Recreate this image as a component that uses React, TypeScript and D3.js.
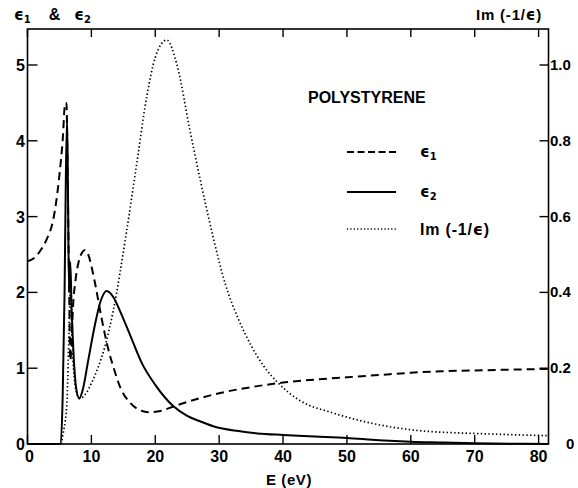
import React from "react";
import * as d3 from "d3";

const eps1E = [0, 1, 2, 3, 4, 4.5, 5, 5.5, 5.9, 6.1, 6.3, 6.5, 6.7, 6.9, 7.1, 7.5, 8, 8.5, 9, 9.5, 10.5, 11.5, 12.5, 13.5, 14.5, 16, 17.5, 19, 21, 23, 26, 30, 35, 40, 45, 50, 55, 60, 65, 70, 75, 81.5];
const eps1V = [2.41, 2.45, 2.55, 2.7, 2.95, 3.2, 3.55, 4.0, 4.5, 4.5, 3.4, 2.2, 1.1, 1.35, 1.77, 2.15, 2.4, 2.52, 2.56, 2.5, 2.15, 1.7, 1.3, 1.0, 0.75, 0.55, 0.45, 0.42, 0.44, 0.5, 0.58, 0.67, 0.75, 0.81, 0.85, 0.88, 0.91, 0.94, 0.96, 0.97, 0.98, 0.99];

const eps2E = [0, 5.2, 5.5, 5.8, 6.0, 6.2, 6.35, 6.5, 6.7, 6.9, 7.2, 7.6, 8.1, 8.6, 9.5, 10.5, 11.5, 12.4, 13.5, 14.5, 16, 18, 20, 22.8, 25, 27, 29.6, 33, 36, 40, 45, 50, 55, 60, 65, 70, 81.5];
const eps2V = [0, 0, 0.6, 2.0, 3.5, 4.3, 3.2, 2.0, 2.4, 1.8, 1.2, 0.75, 0.6, 0.7, 1.1, 1.55, 1.9, 2.02, 1.93, 1.75, 1.45, 1.05, 0.78, 0.5, 0.37, 0.3, 0.22, 0.17, 0.14, 0.12, 0.1, 0.08, 0.05, 0.03, 0.02, 0.01, 0.0];

const lossE = [5.3, 5.6, 5.9, 6.2, 6.5, 6.7, 6.9, 7.2, 7.6, 8.2, 9, 10, 11, 12.1, 13.4, 15.5, 17.1, 18.7, 20, 21.8, 23.4, 25.4, 27, 29, 31, 33, 35, 37, 39, 42.6, 47.8, 53, 60.3, 65, 69.7, 75, 81.3];
const lossV = [0, 0.03, 0.06, 0.12, 0.3, 0.4, 0.3, 0.2, 0.14, 0.12, 0.13, 0.16, 0.2, 0.256, 0.35, 0.56, 0.74, 0.92, 1.02, 1.066, 1.0, 0.83, 0.7, 0.55, 0.42, 0.33, 0.26, 0.205, 0.165, 0.115, 0.082, 0.058, 0.037, 0.031, 0.028, 0.025, 0.022];

const xTicks = [0, 10, 20, 30, 40, 50, 60, 70, 80];
const yLeftTicks = [0, 1, 2, 3, 4, 5];
const yRightTicks = [0, 0.2, 0.4, 0.6, 0.8, 1.0];
const yRightLabels = ["0", "0.2", "0.4", "0.6", "0.8", "1.0"];

const W = 578, H = 488;
const L = 27.5, R = 548.5, T = 29, B = 444;

export default function App() {
  const x = d3.scaleLinear().domain([0, 81.55]).range([L, R]);
  const yL = d3.scaleLinear().domain([0, 5.475]).range([B, T]);
  const yR = d3.scaleLinear().domain([0, 1.095]).range([B, T]);

  const lineL = d3.line<[number, number]>().x(d => x(d[0])).y(d => yL(d[1])).curve(d3.curveMonotoneX);
  const lineR = d3.line<[number, number]>().x(d => x(d[0])).y(d => yR(d[1])).curve(d3.curveMonotoneX);

  const e1 = eps1E.map((e, i) => [e, eps1V[i]] as [number, number]);
  const e2 = eps2E.map((e, i) => [e, eps2V[i]] as [number, number]);
  const lo = lossE.map((e, i) => [e, lossV[i]] as [number, number]);

  const font = "'Liberation Sans', Arial, sans-serif";
  const gfont = "'DejaVu Sans', sans-serif";
  const eps = "\u03F5";

  return (
    <svg width={W} height={H} style={{ position: "absolute", left: 0, top: 0, background: "#fff" }}>
      <rect x={0} y={0} width={W} height={H} fill="#fff" />
      <rect x={L} y={T} width={R - L} height={B - T} fill="none" stroke="#000" strokeWidth={1.6} />
      {xTicks.map(t => (
        <g key={"xt" + t}>
          <line x1={x(t)} x2={x(t)} y1={B} y2={B - 9} stroke="#000" strokeWidth={1.4} />
          <line x1={x(t)} x2={x(t)} y1={T} y2={T + 8} stroke="#000" strokeWidth={1.4} />
          <text x={x(t) + (t === 0 ? 2 : 0)} y={462} textAnchor="middle" fontFamily={font} fontWeight="bold" fontSize={16}>{t}</text>
        </g>
      ))}
      {yLeftTicks.map(t => (
        <g key={"yl" + t}>
          <line x1={L} x2={L + 10} y1={yL(t)} y2={yL(t)} stroke="#000" strokeWidth={1.4} />
          <text x={25} y={yL(t) + 6} textAnchor="end" fontFamily={font} fontWeight="bold" fontSize={16}>{t}</text>
        </g>
      ))}
      {yRightTicks.map((t, i) => (
        <g key={"yr" + t}>
          <line x1={R - 9} x2={R} y1={yR(t)} y2={yR(t)} stroke="#000" strokeWidth={1.4} />
          <text x={t === 0 ? 566 : 550} y={yR(t) + 5} textAnchor="start" fontFamily={font} fontWeight="bold" fontSize={15}>{yRightLabels[i]}</text>
        </g>
      ))}
      <path d={lineR(lo) || ""} fill="none" stroke="#000" strokeWidth={1.7} strokeDasharray="1.4 2.4" />
      <path d={lineL(e1) || ""} fill="none" stroke="#000" strokeWidth={2} strokeDasharray="8 5" />
      <path d={lineL(e2) || ""} fill="none" stroke="#000" strokeWidth={2} />
      <text x={14} y={20} fontFamily={gfont} fontWeight="bold" fontSize={15}>{eps}<tspan fontSize={10} dy={3}>1</tspan><tspan dy={-3} dx={18} fontFamily={font} fontSize={16}>&amp;</tspan><tspan dx={14}>{eps}</tspan><tspan fontSize={10} dy={3}>2</tspan></text>
      <text x={476} y={20} fontFamily={font} fontWeight="bold" fontSize={15} letterSpacing={0.8}>Im (-1/<tspan fontFamily={gfont}>{eps}</tspan>)</text>
      <text x={289} y={485} textAnchor="middle" fontFamily={font} fontWeight="bold" fontSize={15} letterSpacing={0.6}>E (eV)</text>
      <text x={308} y={103} fontFamily={font} fontWeight="bold" fontSize={16}>POLYSTYRENE</text>
      <line x1={347} x2={396} y1={152} y2={152} stroke="#000" strokeWidth={2} strokeDasharray="7 3.5" />
      <text x={420} y={157} fontFamily={gfont} fontWeight="bold" fontSize={15}>{eps}<tspan fontSize={10} dy={3}>1</tspan></text>
      <line x1={347} x2={396} y1={192} y2={192} stroke="#000" strokeWidth={2} />
      <text x={420} y={197} fontFamily={gfont} fontWeight="bold" fontSize={15}>{eps}<tspan fontSize={10} dy={3}>2</tspan></text>
      <line x1={347} x2={396} y1={229} y2={229} stroke="#000" strokeWidth={1.4} strokeDasharray="1.2 2.2" />
      <text x={420} y={235} fontFamily={font} fontWeight="bold" fontSize={16} letterSpacing={0.8}>Im (-1/<tspan fontFamily={gfont}>{eps}</tspan>)</text>
    </svg>
  );
}
